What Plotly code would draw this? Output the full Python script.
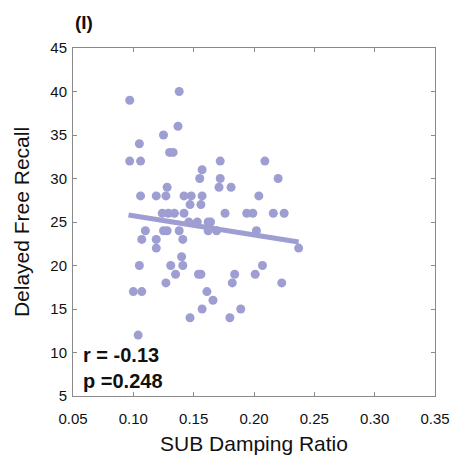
import plotly.graph_objects as go

# Scatter data (x = SUB damping ratio, y = delayed free recall)
x_vals = [0.138, 0.097, 0.137, 0.125, 0.105, 0.130, 0.133,
          0.097, 0.106, 0.172, 0.209, 0.157, 0.155, 0.172, 0.220,
          0.128, 0.171, 0.181,
          0.106, 0.119, 0.127, 0.142, 0.148, 0.157, 0.204,
          0.147, 0.156,
          0.124, 0.129, 0.134, 0.142, 0.176, 0.194, 0.199, 0.216, 0.225,
          0.146, 0.153, 0.162, 0.164,
          0.110, 0.125, 0.128, 0.138, 0.162, 0.169, 0.202,
          0.107, 0.119, 0.141,
          0.119, 0.237,
          0.140,
          0.105, 0.131, 0.141, 0.207,
          0.135, 0.154, 0.156, 0.184, 0.201,
          0.127, 0.182, 0.223,
          0.100, 0.107, 0.161,
          0.166,
          0.157, 0.189,
          0.147, 0.180,
          0.104]
y_vals = [40, 39, 36, 35, 34, 33, 33,
          32, 32, 32, 32, 31, 30, 30, 30,
          29, 29, 29,
          28, 28, 28, 28, 28, 28, 28,
          27, 27,
          26, 26, 26, 26, 26, 26, 26, 26, 26,
          25, 25, 25, 25,
          24, 24, 24, 24, 24, 24, 24,
          23, 23, 23,
          22, 22,
          21,
          20, 20, 20, 20,
          19, 19, 19, 19, 19,
          18, 18, 18,
          17, 17, 17,
          16,
          15, 15,
          14, 14,
          12]

# Fitted line end points
fit_x = [0.096, 0.237]
fit_y = [25.8, 22.7]

x_ticks = [0.05, 0.10, 0.15, 0.20, 0.25, 0.30, 0.35]
y_ticks = [5, 10, 15, 20, 25, 30, 35, 40, 45]

color = "#9e9ed2"
font = "Liberation Sans, Arial, sans-serif"

fig = go.Figure()
fig.add_trace(go.Scatter(x=x_vals, y=y_vals, mode="markers",
                         marker=dict(color=color, size=9, line=dict(width=0)),
                         showlegend=False, hoverinfo="skip"))
fig.add_trace(go.Scatter(x=fit_x, y=fit_y, mode="lines",
                         line=dict(color=color, width=5),
                         showlegend=False, hoverinfo="skip"))

axis_common = dict(showgrid=False, zeroline=False, showline=True, mirror="ticks",
                   linecolor="#8a8a8a", linewidth=1, ticks="inside", ticklen=4,
                   tickcolor="#8a8a8a", automargin=False,
                   tickfont=dict(family=font, size=15, color="#111"))

fig.update_xaxes(range=[0.05, 0.35], tickvals=x_ticks,
                 ticktext=[f"{v:.2f}" for v in x_ticks], ticklabelstandoff=9,
                 title=dict(text="SUB Damping Ratio", font=dict(family=font, size=21, color="#111"), standoff=10),
                 **axis_common)
fig.update_yaxes(range=[5, 45], tickvals=y_ticks, ticklabelstandoff=2,
                 title=dict(text="Delayed Free Recall", font=dict(family=font, size=21, color="#111"), standoff=14),
                 **axis_common)

fig.add_annotation(text="<b>(I)</b>", xref="paper", yref="paper", x=0.0, y=1.0,
                   xanchor="left", yanchor="middle", yshift=26, showarrow=False,
                   font=dict(family=font, size=19, color="#111"))
fig.add_annotation(text="<b>r = -0.13</b>", xref="paper", yref="paper", x=0.0, y=0.0,
                   xanchor="left", yanchor="middle", xshift=8, yshift=41, showarrow=False,
                   font=dict(family=font, size=20, color="#111"))
fig.add_annotation(text="<b>p =0.248</b>", xref="paper", yref="paper", x=0.0, y=0.0,
                   xanchor="left", yanchor="middle", xshift=8, yshift=15, showarrow=False,
                   font=dict(family=font, size=20, color="#111"))

fig.update_layout(width=466, height=457, plot_bgcolor="white", paper_bgcolor="white",
                  margin=dict(l=65, r=39, t=40, b=69))

fig.write_html("out.html")
